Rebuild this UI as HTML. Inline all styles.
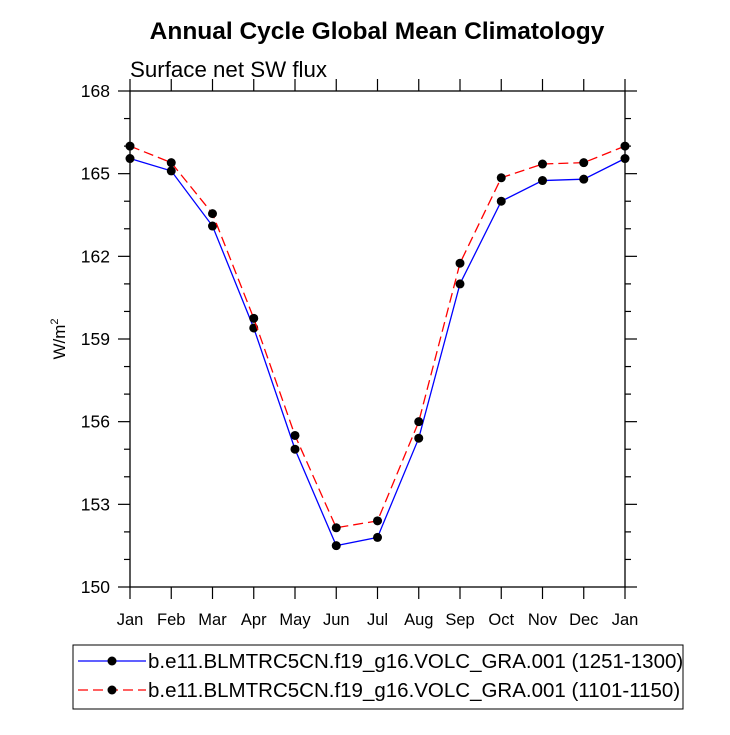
<!DOCTYPE html>
<html><head><meta charset="utf-8"><style>
html,body{margin:0;padding:0;background:#fff;}
svg text{font-family:"Liberation Sans",sans-serif;}
</style></head><body>
<svg id="chart" width="730" height="730" xmlns="http://www.w3.org/2000/svg">
<text x="377" y="39" text-anchor="middle" font-size="24.5" font-weight="bold">Annual Cycle Global Mean Climatology</text>
<text x="130" y="77" font-size="22.3">Surface net SW flux</text>
<text transform="translate(65,339) rotate(-90)" text-anchor="middle" font-size="17">W/m<tspan dy="-7" font-size="11">2</tspan></text>
<g id="axes"></g>
<g id="series"></g>
<g>
<rect x="73" y="645" width="610" height="64" fill="none" stroke="#000" stroke-width="1"/>
<line x1="78" y1="661" x2="146" y2="661" stroke="#00f" stroke-width="1.3"/>
<circle cx="112" cy="661" r="4.5" fill="#000"/>
<text x="148" y="668" font-size="20.5">b.e11.BLMTRC5CN.f19_g16.VOLC_GRA.001 (1251-1300)</text>
<line x1="78" y1="690" x2="146" y2="690" stroke="#f00" stroke-width="1.3" stroke-dasharray="10,5"/>
<circle cx="112" cy="690" r="4.5" fill="#000"/>
<text x="148" y="697" font-size="20.5">b.e11.BLMTRC5CN.f19_g16.VOLC_GRA.001 (1101-1150)</text>
</g>
</svg>
<script>
const months=["Jan","Feb","Mar","Apr","May","Jun","Jul","Aug","Sep","Oct","Nov","Dec","Jan"];
const blueValues=[165.55,165.1,163.1,159.4,155.0,151.5,151.8,155.4,161.0,164.0,164.75,164.8,165.55];
const redValues=[166.0,165.4,163.55,159.75,155.5,152.15,152.4,156.0,161.75,164.85,165.35,165.4,166.0];
const yTicks=[150,153,156,159,162,165,168];
const X0=130,X1=625,Y0=587,Y1=91,YMIN=150,YMAX=168;
const ns="http://www.w3.org/2000/svg";
function xs(i){return X0+(X1-X0)*i/(months.length-1);}
function ys(v){return Y0-(Y0-Y1)*(v-YMIN)/(YMAX-YMIN);}
function mk(tag,attrs,parent){const e=document.createElementNS(ns,tag);for(const k in attrs)e.setAttribute(k,attrs[k]);parent.appendChild(e);return e;}
const ax=document.getElementById('axes');
const frame=mk('rect',{x:X0,y:Y1,width:X1-X0,height:Y0-Y1,fill:'none',stroke:'#000','stroke-width':1.3},ax);


months.forEach((m,i)=>{
  const x=xs(i);
  mk('line',{x1:x,y1:Y0,x2:x,y2:Y0+12,stroke:'#000','stroke-width':1.2},ax);
  mk('line',{x1:x,y1:Y1,x2:x,y2:Y1-12,stroke:'#000','stroke-width':1.2},ax);
  const t=mk('text',{x:x,y:Y0+38,'text-anchor':'middle','font-size':16.5},ax);
  t.textContent=m;
  
  
});
for(let v=YMIN;v<=YMAX;v++){
  const y=ys(v);const major=yTicks.includes(v);const L=major?12:6;
  mk('line',{x1:X0,y1:y,x2:X0-L,y2:y,stroke:'#000','stroke-width':1.2},ax);
  mk('line',{x1:X1,y1:y,x2:X1+L,y2:y,stroke:'#000','stroke-width':1.2},ax);
}
yTicks.forEach(v=>{
  const t=mk('text',{x:X0-20,y:ys(v)+6,'text-anchor':'end','font-size':17.5},ax);
  t.textContent=v;
  
  
});
const sg=document.getElementById('series');
function drawSeries(vals,color,dash,name){
  const g=mk('g',{},sg);
  
  
  const pts=vals.map((v,i)=>xs(i)+','+ys(v)).join(' ');
  const pl=mk('polyline',{points:pts,fill:'none',stroke:color,'stroke-width':1.3},g);
  if(dash)pl.setAttribute('stroke-dasharray','10,5');
  vals.forEach((v,i)=>{
    const c=mk('circle',{cx:xs(i),cy:ys(v),r:4.5,fill:'#000'},g);
    
    
  });
}
drawSeries(blueValues,'#00f',false,'series-1251-1300');
drawSeries(redValues,'#f00',true,'series-1101-1150');
</script>
</body></html>
